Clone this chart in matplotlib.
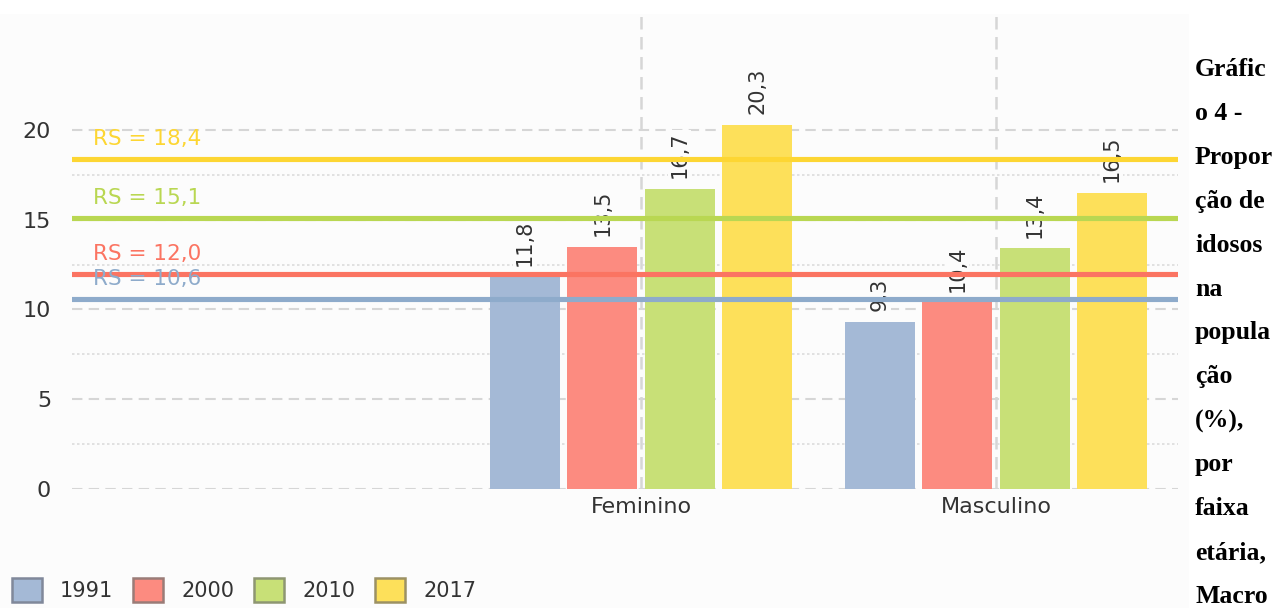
import numpy as np
import matplotlib.pyplot as plt
from matplotlib.patches import Patch, Rectangle
from matplotlib.transforms import blended_transform_factory

# data
categories = ['Feminino', 'Masculino']
years = ['1991', '2000', '2010', '2017']
values = {
    '1991': [11.8, 9.3],
    '2000': [13.5, 10.4],
    '2010': [16.7, 13.4],
    '2017': [20.3, 16.5],
}
rs_values = [18.4, 15.1, 12.0, 10.6]
rs_years = ['2017', '2010', '2000', '1991']
caption_lines = ['Gráfic', 'o 4 -', 'Propor', 'ção de', 'idosos', 'na',
                 'popula', 'ção', '(%),', 'por', 'faixa', 'etária,', 'Macro']

bar_colors = {'1991': '#a4b9d6', '2000': '#fc8b80', '2010': '#c8e077', '2017': '#fde05a'}
edge_colors = {'1991': '#80889a', '2000': '#9a7c77', '2010': '#8e9672', '2017': '#9c9163'}
line_colors = {'1991': '#8eabcb', '2000': '#fb7462', '2010': '#b9d752', '2017': '#fdd633'}

sans = ['DejaVu Sans']
txt_col = '#333333'

fig = plt.figure(figsize=(12.76, 6.08), dpi=100)
fig.patch.set_facecolor('white')
fig.patches.append(Rectangle((0, 0), 1189 / 1276, 1 - 14 / 608, transform=fig.transFigure,
                             facecolor='#fcfcfc', edgecolor='none', zorder=-10))

ax = fig.add_axes([72 / 1276, 1 - 489 / 608, (1178 - 72) / 1276, (489 - 14) / 608])
ax.set_facecolor('none')
for s in ax.spines.values():
    s.set_visible(False)

x = np.arange(len(categories))
step = 0.218
width = 0.197
offsets = (np.arange(len(years)) - 1.5) * step

for i, yr in enumerate(years):
    vals = values[yr]
    ax.bar(x + offsets[i], vals, width, color=bar_colors[yr], zorder=2)
    for xi, v in zip(x + offsets[i], vals):
        ax.text(xi, v + 0.6, f'{v:.1f}'.replace('.', ','), rotation=90, ha='center', va='bottom',
                fontsize=15, color=txt_col, family=sans, zorder=3,
                bbox=dict(facecolor='#fcfcfc', edgecolor='none', pad=1))

# reference lines
trans = blended_transform_factory(ax.transAxes, ax.transData)
for v, yr in zip(rs_values, rs_years):
    ax.axhline(v, color=line_colors[yr], lw=3.7, zorder=4)
    ax.text(0.019, v + 1.1, 'RS = ' + f'{v:.1f}'.replace('.', ','), transform=trans,
            ha='left', va='center', fontsize=15.5, color=line_colors[yr], family=sans, zorder=5)

ax.set_xlim(-1.603, 1.513)
ax.set_ylim(0, 26.46)
ax.set_yticks([0, 5, 10, 15, 20])
ax.set_yticks([2.5, 7.5, 12.5, 17.5], minor=True)
ax.set_xticks(x)
ax.set_xticklabels(categories)
ax.set_axisbelow(True)
ax.yaxis.grid(True, which='major', ls=(0, (5, 3)), color='#d6d6d6', lw=1.5)
ax.yaxis.grid(True, which='minor', ls=(0, (1.5, 1.5)), color='#dcdcdc', lw=1.2)
ax.xaxis.grid(True, ls=(0, (5, 3)), color='#d6d6d6', lw=1.8)
ax.tick_params(axis='both', which='both', length=0, colors=txt_col)
ax.tick_params(axis='y', pad=15)
ax.tick_params(axis='x', pad=6)
for lab in ax.get_xticklabels() + ax.get_yticklabels():
    lab.set_family(sans)
    lab.set_fontsize(16)

# legend
handles = [Patch(facecolor=bar_colors[yr], edgecolor=edge_colors[yr], lw=1.8) for yr in years]
leg = fig.legend(handles, years, loc='center left', bbox_to_anchor=(12 / 1276, 1 - 590 / 608),
                 ncol=4, frameon=False, borderpad=0, borderaxespad=0,
                 handlelength=1.44, handleheight=1.39, handletextpad=0.87, columnspacing=0.95,
                 prop={'family': sans, 'size': 15})
for t in leg.get_texts():
    t.set_color(txt_col)

# caption column on the right
for i, line in enumerate(caption_lines):
    fig.text(1195 / 1276, 1 - (76 + i * 43.9) / 608, line, ha='left', va='baseline',
             fontsize=18.5, fontweight='bold', family=['Liberation Serif', 'DejaVu Serif'],
             color='black')

fig.savefig('out.png', dpi=100)
